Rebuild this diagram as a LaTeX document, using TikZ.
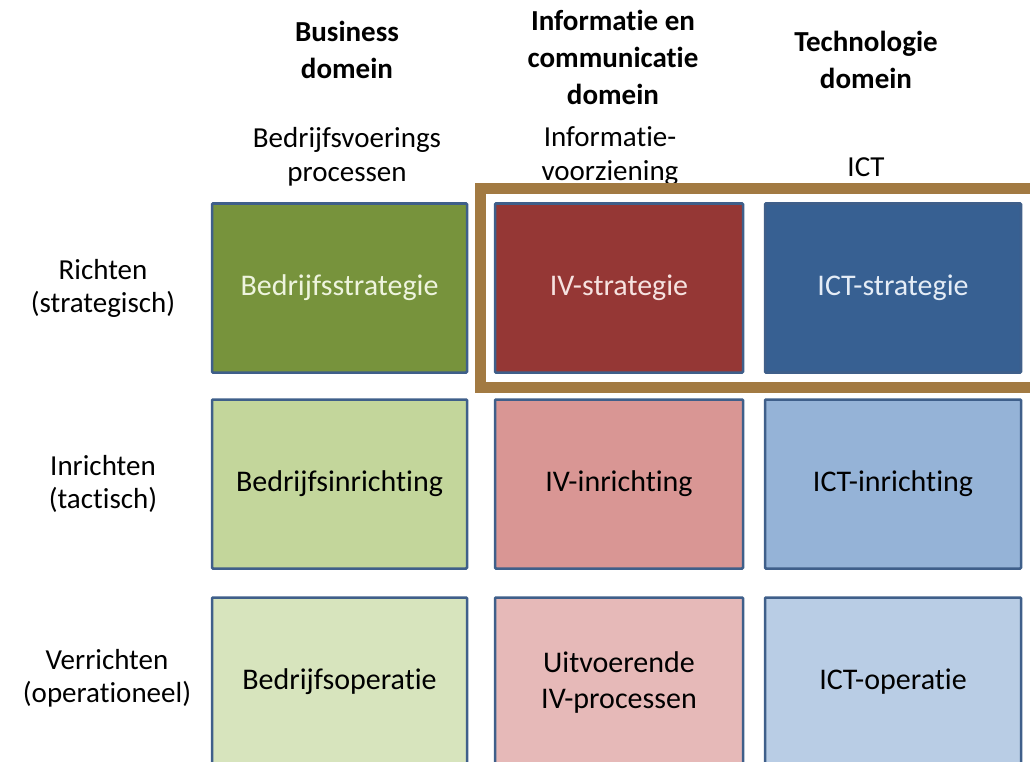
\documentclass[tikz,border=0pt]{standalone}
\usepackage{fontspec}
\setmainfont{Carlito}[Ligatures={NoCommon,NoRequired}]
\usetikzlibrary{fit}

\definecolor{outline}{HTML}{3F5F8A}
\definecolor{frameBrown}{HTML}{A27A42}
\definecolor{bizDark}{HTML}{77933C}
\definecolor{bizMid}{HTML}{C3D69B}
\definecolor{bizLight}{HTML}{D7E4BD}
\definecolor{ivDark}{HTML}{953735}
\definecolor{ivMid}{HTML}{D99694}
\definecolor{ivLight}{HTML}{E6B9B8}
\definecolor{ictDark}{HTML}{376092}
\definecolor{ictMid}{HTML}{95B3D7}
\definecolor{ictLight}{HTML}{B9CDE5}
\definecolor{bizText}{HTML}{EEF4DE}
\definecolor{ivText}{HTML}{F6E2E0}
\definecolor{ictText}{HTML}{E4ECF6}

\begin{document}
\begin{tikzpicture}[
  x=1pt, y=-1pt,
  every node/.style={font=\fontsize{30}{36}\selectfont, align=center, inner sep=0pt, outer sep=0pt},
  cell/.style={draw=outline, line width=2.5pt, minimum height=169pt, rounded corners=1pt},
  col1/.style={cell, minimum width=255pt},
  col2/.style={cell, minimum width=248pt},
  col3/.style={cell, minimum width=256pt},
  head/.style={font=\fontsize{29}{37}\selectfont\bfseries},
  sub/.style={font=\fontsize{29}{34}\selectfont},
  rowlabel/.style={font=\fontsize{29}{33}\selectfont}
]
\useasboundingbox (0,0) rectangle (1030,762);

% column headers
\node[head] (hbiz) at (347,50) {Business\\domein};
\node[head] (hiv) at (613,57) {Informatie en\\communicatie\\domein};
\node[head] (hict) at (866,60) {Technologie\\domein};

\node[sub] (sbiz) at (347,157) {Bedrijfsvoerings\\processen};
\node[sub] (siv) at (610,156) {Informatie-\\voorziening};
\node[sub] (sict) at (866,167) {ICT};

% row labels
\node[rowlabel] (rricht) at (103,288) {Richten\\(strategisch)};
\node[rowlabel] (rinricht) at (103,484) {Inrichten\\(tactisch)};
\node[rowlabel] (rverricht) at (107,678) {Verrichten\\(operationeel)};

% strategic row
\node[col1, fill=bizDark, text=bizText] (bs) at (339.5,288) {Bedrijfsstrategie};
\node[col2, fill=ivDark, text=ivText] (ivs) at (619,288) {IV-strategie};
\node[col3, fill=ictDark, text=ictText] (icts) at (893,288) {ICT-strategie};

% tactical row
\node[col1, fill=bizMid] (bi) at (339.5,484) {Bedrijfsinrichting};
\node[col2, fill=ivMid] (ivi) at (619,484) {IV-inrichting};
\node[col3, fill=ictMid] (icti) at (893,484) {ICT-inrichting};

% operational row
\node[col1, fill=bizLight] (bo) at (339.5,682) {Bedrijfsoperatie};
\node[col2, fill=ivLight] (ivo) at (619,682) {Uitvoerende\\IV-processen};
\node[col3, fill=ictLight] (icto) at (893,682) {ICT-operatie};

% highlight of IV and ICT strategy
\node[draw=frameBrown, line width=11pt, inner sep=15pt, fit=(ivs)(icts)] (focus) {};
\end{tikzpicture}
\end{document}
